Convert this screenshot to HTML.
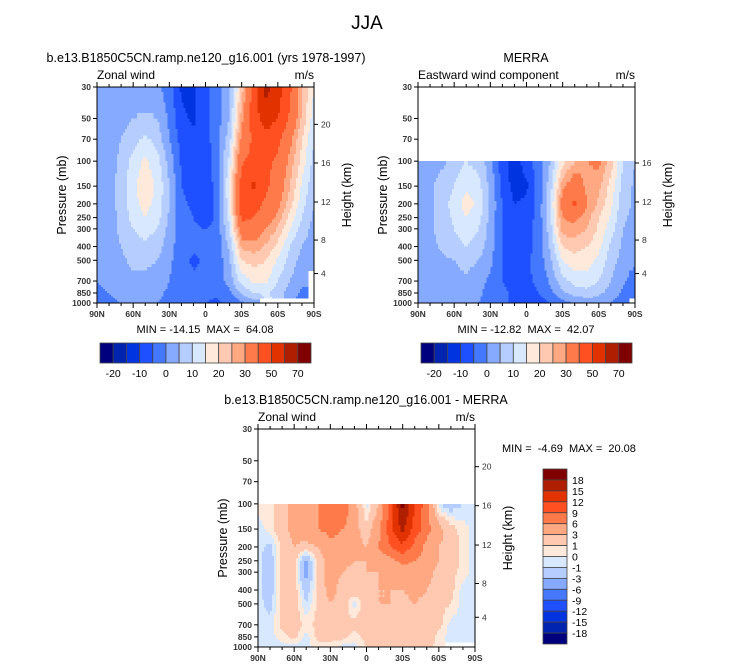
<!DOCTYPE html>
<html><head><meta charset="utf-8"><style>
html,body{margin:0;padding:0;background:#fff;}
svg{display:block;font-family:"Liberation Sans",sans-serif;}
text{white-space:pre;}
</style></head><body>
<svg id="c" width="733" height="670" viewBox="0 0 733 670" xmlns="http://www.w3.org/2000/svg">
<text x="367" y="29" font-size="19" text-anchor="middle">JJA</text>
<text x="206" y="62" font-size="12.5" text-anchor="middle">b.e13.B1850C5CN.ramp.ne120_g16.001 (yrs 1978-1997)</text>
<text x="97" y="79" font-size="12">Zonal wind</text>
<text x="314" y="79" font-size="12" text-anchor="end">m/s</text>
<text x="526" y="62" font-size="12.5" text-anchor="middle">MERRA</text>
<text x="418" y="79" font-size="12">Eastward wind component</text>
<text x="635" y="79" font-size="12" text-anchor="end">m/s</text>
<text x="366" y="404" font-size="12.5" text-anchor="middle">b.e13.B1850C5CN.ramp.ne120_g16.001 - MERRA</text>
<text x="258" y="421" font-size="12">Zonal wind</text>
<text x="475" y="421" font-size="12" text-anchor="end">m/s</text>
<text x="205" y="333" font-size="11" text-anchor="middle">MIN = -14.15  MAX =  64.08</text>
<text x="526" y="333" font-size="11" text-anchor="middle">MIN = -12.82  MAX =  42.07</text>
<text x="502" y="452" font-size="11">MIN =  -4.69  MAX =  20.08</text>
</svg>
<script>
const lats = ["90N","80N","70N","60N","50N","40N","30N","20N","10N","0","10S","20S","30S","40S","50S","60S","70S","80S","90S"];
const latTickLabels = ["90N","60N","30N","0","30S","60S","90S"];
const levelsFull = [30,50,70,100,150,200,250,300,400,500,700,850,1000];
const levelsObs = [100,150,200,250,300,400,500,700,850,1000];
const pressureTicks = [30,50,70,100,150,200,250,300,400,500,700,850,1000];
const heightTicks = [4,8,12,16,20];
const heightTickPressure = [620,360,194,103,55];
const N = NaN;
const modelField = [
[2,2,2,2,2,1,-3,-11,-11,-7,-2,4,22,45,64,55,42,25,15],
[2,2,3,5,6,5,-1,-9,-11,-7,-2,5,28,45,55,50,38,24,12],
[2,3,5,8,11,8,0,-7,-9,-7,-2,8,32,42,46,42,32,20,10],
[2,3,6,12,16,12,3,-6,-8,-8,-2,12,38,44,42,38,28,18,8],
[2,3,7,14,18,14,5,-5,-7,-8,-3,15,45,52,42,35,25,14,6],
[2,3,7,13,17,13,5,-4,-6,-8,-3,14,44,44,38,32,22,12,5],
[2,3,6,12,15,12,4,-3,-5,-9,-3,12,42,40,35,28,18,10,4],
[2,3,6,10,12,10,3,-3,-4,-5,-3,10,36,36,30,24,15,8,3],
[1,2,5,8,9,7,2,-3,-4,-4,-3,6,26,28,24,18,10,5,2],
[1,2,4,6,6,5,1,-3,-6,-4,-3,4,20,22,20,14,8,3,1],
[0,1,3,4,4,3,0,-3,-4,-4,-3,2,12,16,16,10,5,1,N],
[-1,0,1,2,2,1,-1,-3,-4,-4,-4,-1,6,10,11,7,3,-1,N],
[-1,-1,0,0,0,0,-1,-3,-4,-5,-6,-4,-1,2,N,N,N,N,N]];
const merraField = [
[3,3,4,7,10,8,2,-8,-12,-8,-2,5,18,24,30,32,22,10,5],
[3,4,7,10,14,12,3,-7,-12,-11,-3,8,28,36,28,26,18,8,4],
[3,4,8,12,17,14,4,-5,-10,-9,-3,9,34,42,30,24,16,7,4],
[3,4,7,11,15,12,3,-5,-8,-8,-3,9,30,32,27,20,14,6,3],
[3,4,7,10,13,10,3,-5,-7,-7,-3,8,28,28,25,19,12,5,3],
[2,3,6,8,10,8,2,-5,-7,-7,-3,6,20,22,20,16,9,4,2],
[2,2,4,5,7,5,1,-5,-7,-6,-3,4,15,18,17,14,7,3,1],
[1,2,3,3,4,2,-1,-5,-7,-6,-4,1,8,12,13,10,5,1,-3],
[1,1,2,2,2,1,-2,-4,-6,-7,-5,-1,4,7,8,6,3,-1,-5],
[0,0,1,1,1,0,-2,-4,-6,-8,-8,-5,-2,0,2,2,0,-3,N]];
const diffField = [
[0.5,0.5,2,4,5,6,8,9,4,-0.5,3,10,19,12,7,-1,-2,-1,-0.5],
[-0.5,0.5,2,4,5,6,7,6,4,1.5,5,11,16,11,7,4,1.5,0.5,-0.5],
[-0.5,-1.5,1.5,3,2,3,5,5,4,3,6,9,11,8,5,3,2,0.5,-0.5],
[-0.5,-2,1.5,2,-3.5,2,4,4,3,3,4,5,7,6,5,3,2,0.5,-0.5],
[-0.5,-2,1.5,2,-4,2,4,3,2,3,3,4,4,5,4,2,1.5,0.5,-0.5],
[-0.5,-2,1.5,2,-2,1.5,4,2,2,2,3,3,3,4,3,2,1.5,-0.5,-0.5],
[-0.5,-1.5,1.5,2,-1,1.5,3,2,-0.5,2,3,3,2,3,2,1.5,1,-0.5,-0.5],
[-0.5,-0.5,1.5,2,0.5,1.5,2,1.5,1.5,2,2,2,2,2,1.5,1.5,-0.5,-0.5,-0.5],
[-0.5,-0.5,0.5,1.5,-0.5,1.5,1.5,1.5,0.5,1.5,2,2,2,2,2,0.5,-0.5,-0.5,-0.5],
[-0.5,-0.5,-0.5,-0.5,-0.5,0.5,0.5,-0.5,-0.5,1,1.5,2,2,2,1.5,0.5,N,N,N]];
const windBounds = [-20,-15,-10,-5,0,5,10,15,20,25,30,40,50,60,70];
const windBarLabels = ["-20","","-10","","0","","10","","20","","30","","50","","70"];
const diffBounds = [-18,-15,-12,-9,-6,-3,-1,0,1,3,6,9,12,15,18];
const diffBarLabels = ["-18","-15","-12","-9","-6","-3","-1","0","1","3","6","9","12","15","18"];
const palette = ["#00007f","#0023b0","#0034e0","#1f50ff","#4478ff","#85aaff","#b5cdff","#d8e8ff","#ffe9da","#ffc9b1","#ffa881","#ff7a4b","#ff5022","#e23200","#b01e00","#800000"];

const NS="http://www.w3.org/2000/svg";
const svg=document.getElementById('c');
function mk(tag,attrs,parent){const e=document.createElementNS(NS,tag);for(const k in attrs)e.setAttribute(k,attrs[k]);(parent||svg).appendChild(e);return e;}
function colorFor(v,b){let i=0;while(i<b.length&&v>=b[i])i++;return palette[i];}

function drawPanel(P){
  const g=mk('g',{});
  
  
  const lp0=Math.log10(30),lp1=Math.log10(1000);
  const yP=p=>P.top+(Math.log10(p)-lp0)/(lp1-lp0)*P.h;
  const xI=i=>P.left+i/(lats.length-1)*P.w;
  const F=P.field,L=P.levels,S=6;
  const cg=mk('g',{'shape-rendering':'crispEdges'},g);
  
  
  for(let r=0;r<L.length-1;r++){
    const y0=yP(L[r]),y1=yP(L[r+1]);
    for(let c=0;c<lats.length-1;c++){
      const x0=xI(c),x1=xI(c+1);
      const q=[F[r][c],F[r][c+1],F[r+1][c],F[r+1][c+1]];
      for(let a=0;a<S;a++)for(let b=0;b<S;b++){
        const u=(b+0.5)/S,v=(a+0.5)/S;
        const near=(v<0.5?0:2)+(u<0.5?0:1);
        if(isNaN(q[near]))continue;
        const vals=q.map(z=>isNaN(z)?q[near]:z);
        const val=vals[0]*(1-u)*(1-v)+vals[1]*u*(1-v)+vals[2]*(1-u)*v+vals[3]*u*v;
        const rx=x0+(x1-x0)*b/S,ry=y0+(y1-y0)*a/S;
        const rect=mk('rect',{x:rx.toFixed(2),y:ry.toFixed(2),width:((x1-x0)/S+0.4).toFixed(2),height:((y1-y0)/S+0.4).toFixed(2),fill:colorFor(val,P.bounds)},cg);
        
        
      }
    }
  }
  const frame=mk('rect',{x:P.left,y:P.top,width:P.w,height:P.h,fill:'none',stroke:'#000','stroke-width':1},g);
  
  
  pressureTicks.forEach(p=>{
    const y=yP(p);
    mk('line',{x1:P.left-4,x2:P.left,y1:y,y2:y,stroke:'#000'},g);
    const t=mk('text',{x:P.left-6,y:y+3,'font-size':8.5,'text-anchor':'end','font-weight':'bold',fill:'#333'},g);
    t.textContent=p;
    
    
  });
  heightTicks.forEach((h,i)=>{
    const p=heightTickPressure[i];
    if(p<P.minHeightP)return;
    const y=yP(p);
    mk('line',{x1:P.left+P.w,x2:P.left+P.w+4,y1:y,y2:y,stroke:'#000'},g);
    const t=mk('text',{x:P.left+P.w+7,y:y+3,'font-size':8.5,fill:'#333'},g);
    t.textContent=h;
    
    
  });
  for(let i=0;i<lats.length;i++){
    const x=xI(i),major=(i%3===0),len=major?5:3;
    mk('line',{x1:x,x2:x,y1:P.top+P.h,y2:P.top+P.h+len,stroke:'#000'},g);
    mk('line',{x1:x,x2:x,y1:P.top,y2:P.top-len,stroke:'#000'},g);
  }
  latTickLabels.forEach((lab,k)=>{
    const x=xI(k*3);
    const t=mk('text',{x:x,y:P.top+P.h+14,'font-size':8.5,'text-anchor':'middle','font-weight':'bold',fill:'#333'},g);
    t.textContent=lab;
    
    
  });
  const yl=mk('text',{x:0,y:0,'font-size':12.5,'text-anchor':'middle',transform:`translate(${P.left-31},${P.top+P.h/2}) rotate(-90)`},g);
  yl.textContent='Pressure (mb)';
  
  
  const hl=mk('text',{x:0,y:0,'font-size':12.5,'text-anchor':'middle',transform:`translate(${P.left+P.w+37},${P.top+P.h/2}) rotate(-90)`},g);
  hl.textContent='Height (km)';
  
  
}
function drawHBar(x,y,w,h,bounds,labels,name){
  const g=mk('g',{});
  
  
  const n=bounds.length+1,bw=w/n;
  for(let i=0;i<n;i++){
    const r=mk('rect',{x:x+i*bw,y:y,width:bw,height:h,fill:palette[i],stroke:'#444','stroke-width':0.8},g);
    
    
  }
  labels.forEach((lab,i)=>{
    if(!lab)return;
    const t=mk('text',{x:x+(i+1)*bw,y:y+h+14,'font-size':10.5,'text-anchor':'middle'},g);
    t.textContent=lab;
    
    
  });
}
function drawVBar(x,y,w,h,bounds,labels,name){
  const g=mk('g',{});
  
  
  const n=bounds.length+1,bh=h/n;
  for(let i=0;i<n;i++){
    const r=mk('rect',{x:x,y:y+i*bh,width:w,height:bh,fill:palette[n-1-i],stroke:'#444','stroke-width':0.8},g);
    
    
  }
  for(let i=0;i<labels.length;i++){
    const t=mk('text',{x:x+w+5,y:y+(i+1)*bh+4,'font-size':10.5},g);
    t.textContent=labels[labels.length-1-i];
    
    
  }
}
drawPanel({name:'model-panel',left:97,top:87,w:217,h:216,field:modelField,levels:levelsFull,bounds:windBounds,minHeightP:0});
drawPanel({name:'merra-panel',left:418,top:87,w:217,h:216,field:merraField,levels:levelsObs,bounds:windBounds,minHeightP:90});
drawPanel({name:'diff-panel',left:258,top:429,w:217,h:218,field:diffField,levels:levelsObs,bounds:diffBounds,minHeightP:0});
drawHBar(100,343,211,20,windBounds,windBarLabels,'model-colorbar');
drawHBar(421,343,211,20,windBounds,windBarLabels,'merra-colorbar');
drawVBar(543,469,24,175,diffBounds,diffBarLabels,'diff-colorbar');
</script>
</body></html>
